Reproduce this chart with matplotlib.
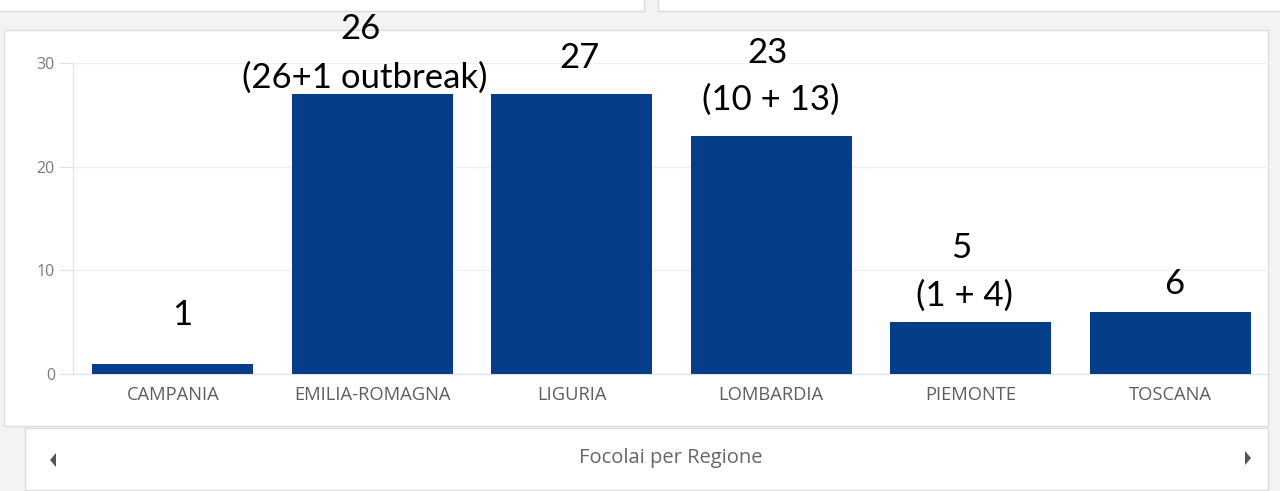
import matplotlib
matplotlib.use("Agg")
import matplotlib.pyplot as plt
from matplotlib.patches import Rectangle, Polygon

regions = ["CAMPANIA", "EMILIA-ROMAGNA", "LIGURIA", "LOMBARDIA", "PIEMONTE", "TOSCANA"]
values = [1, 27, 27, 23, 5, 6]
yticks = [0, 10, 20, 30]
# overlay annotations: text, x in category units, baseline y in data units
ann_text = ["1", "26", "(26+1 outbreak)", "27", "23", "(10 + 13)", "5", "(1 + 4)", "6"]
ann_x = [0.05, 0.94, 0.96, 2.04, 2.98, 3.0, 3.95, 3.97, 5.02]
ann_y = [4.73, 32.31, 27.59, 29.5, 30.0, 25.47, 11.19, 6.56, 7.72]
footer = "Focolai per Regione"

W, H = 1280, 491
fig = plt.figure(figsize=(W / 100, H / 100), dpi=100)
fig.patch.set_facecolor("#f3f3f3")

def fx(px):
    return px / W

def fy(py):
    return 1 - py / H

def box(x0, y0, x1, y1, fc="white", ec="#dcdcdc"):
    fig.patches.append(Rectangle((fx(x0), fy(y1)), (x1 - x0) / W, (y1 - y0) / H,
                                 transform=fig.transFigure, facecolor=fc, edgecolor=ec,
                                 linewidth=1, zorder=-5))

box(-2, -2, 644, 11)
box(658, -2, 1282, 11)
box(4, 30, 1268, 426)
box(25, 428, 1268, 490)

ax = fig.add_axes([fx(73), fy(374), (1270 - 73) / W, (374 - 63) / H])
ax.set_zorder(5)
ax.set_facecolor("none")
x = list(range(len(regions)))
ax.bar(x, values, width=0.805, color="#063d89", zorder=3)
ax.set_xlim(-0.5, len(regions) - 0.5)
ax.set_ylim(0, 30)
ax.set_yticks(yticks)
ax.set_yticklabels([str(t) for t in yticks])
ax.set_xticks(x)
ax.set_xticklabels(regions)
for s in ["top", "right"]:
    ax.spines[s].set_visible(False)
ax.spines["left"].set_color("#e2e2e2")
ax.spines["bottom"].set_color("#e2e2e2")
ax.grid(axis="y", color="#f0f0f0", linewidth=1, zorder=0)
ax.tick_params(axis="y", length=10, color="#e2e2e2", labelsize=11.5, labelcolor="#7a7a7a", pad=3)
ax.tick_params(axis="x", length=0, labelsize=13.2, labelcolor="#5e5e5e", pad=9)
for lab in ax.get_xticklabels() + ax.get_yticklabels():
    lab.set_fontfamily(["Open Sans", "DejaVu Sans"])

for t, xx, yy in zip(ann_text, ann_x, ann_y):
    ax.text(xx, yy, t, ha="center", va="baseline", fontsize=25, color="black",
            family=["Lato", "DejaVu Sans"], clip_on=False, zorder=5)

fig.text(fx(671), fy(458), footer, ha="center", va="center", fontsize=14.5,
         color="#666666", family=["Open Sans", "DejaVu Sans"])
fig.patches.append(Polygon([(fx(56), fy(453)), (fx(56), fy(467)), (fx(50), fy(460))],
                           closed=True, transform=fig.transFigure, facecolor="#555555",
                           edgecolor="none", zorder=2))
fig.patches.append(Polygon([(fx(1245), fy(451)), (fx(1245), fy(465)), (fx(1251), fy(458))],
                           closed=True, transform=fig.transFigure, facecolor="#555555",
                           edgecolor="none", zorder=2))

fig.savefig("out.png", dpi=100, facecolor=fig.get_facecolor())
